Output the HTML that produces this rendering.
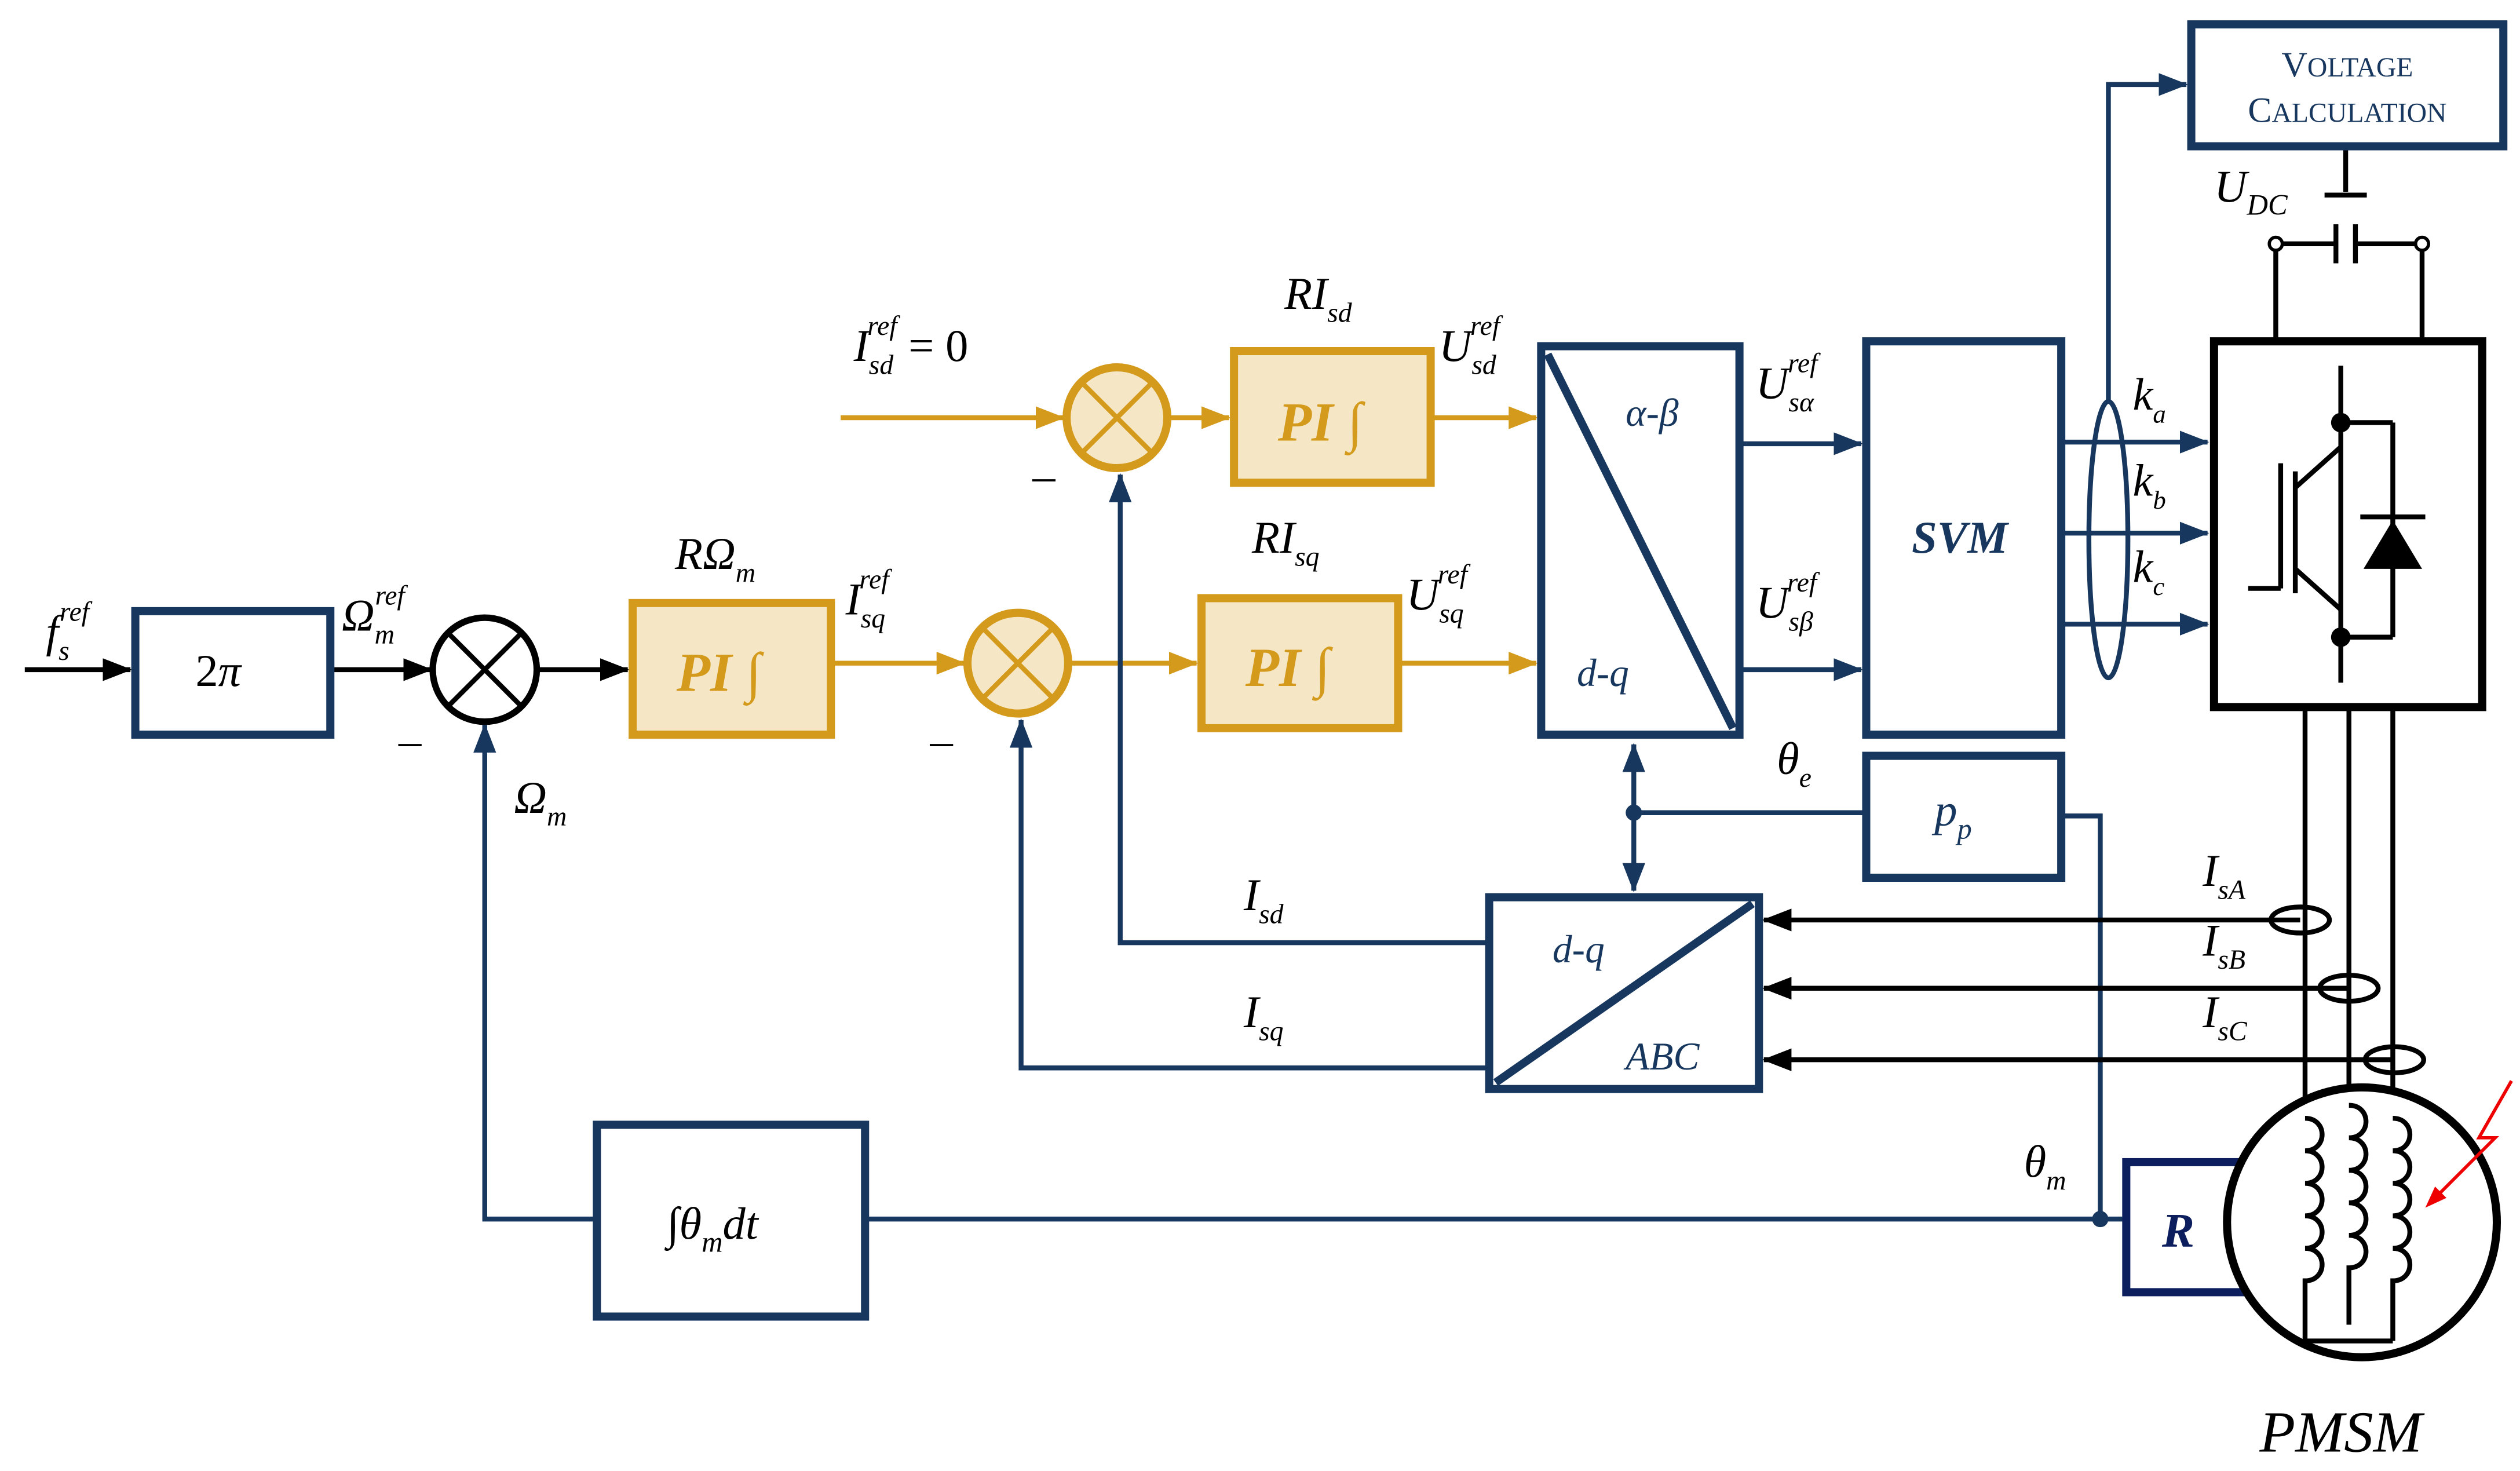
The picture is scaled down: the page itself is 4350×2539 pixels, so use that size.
<!DOCTYPE html>
<html><head><meta charset="utf-8"><style>html,body{margin:0;padding:0;background:#fff}svg{display:block}</style></head><body>
<svg xmlns="http://www.w3.org/2000/svg" width="4350" height="2539" viewBox="0 0 1550 905" font-family="Liberation Serif, serif" font-style="italic">
<defs>
<marker id="ak" markerWidth="10" markerHeight="10" refX="9" refY="5" orient="auto" markerUnits="userSpaceOnUse"><path d="M0,0 L14,5 L0,10 z" fill="#000" transform="scale(1)"/></marker>
<marker id="ab" markerWidth="18" markerHeight="14" refX="17" refY="7" orient="auto" markerUnits="userSpaceOnUse"><path d="M0,0 L18,7 L0,14 z" fill="#17375E"/></marker>
<marker id="abs" markerWidth="18" markerHeight="14" refX="1" refY="7" orient="auto" markerUnits="userSpaceOnUse"><path d="M18,0 L0,7 L18,14 z" fill="#17375E"/></marker>
<marker id="ao" markerWidth="18" markerHeight="14" refX="17" refY="7" orient="auto" markerUnits="userSpaceOnUse"><path d="M0,0 L18,7 L0,14 z" fill="#D49A1C"/></marker>
<marker id="akk" markerWidth="18" markerHeight="14" refX="17" refY="7" orient="auto" markerUnits="userSpaceOnUse"><path d="M0,0 L18,7 L0,14 z" fill="#000"/></marker>
</defs>
<g fill="none" stroke-width="3">
<!-- black input chain -->
<line x1="15" y1="412" x2="80" y2="412" stroke="#000" marker-end="url(#akk)"/>
<line x1="203" y1="412" x2="265" y2="412" stroke="#000" marker-end="url(#akk)"/>
<line x1="330" y1="412" x2="386" y2="412" stroke="#000" marker-end="url(#akk)"/>
<!-- orange -->
<g stroke="#D49A1C">
<line x1="511" y1="408" x2="593" y2="408" marker-end="url(#ao)"/>
<line x1="658" y1="408" x2="736" y2="408" marker-end="url(#ao)"/>
<line x1="860" y1="408" x2="945" y2="408" marker-end="url(#ao)"/>
<line x1="517" y1="257" x2="654" y2="257" marker-end="url(#ao)"/>
<line x1="719" y1="257" x2="756" y2="257" marker-end="url(#ao)"/>
<line x1="880" y1="257" x2="945" y2="257" marker-end="url(#ao)"/>
</g>
<!-- navy lines -->
<g stroke="#17375E">
<line x1="1070" y1="273" x2="1145" y2="273" marker-end="url(#ab)"/>
<line x1="1070" y1="412" x2="1145" y2="412" marker-end="url(#ab)"/>
<line x1="1268" y1="272" x2="1358" y2="272" marker-end="url(#ab)"/>
<line x1="1268" y1="328" x2="1358" y2="328" marker-end="url(#ab)"/>
<line x1="1268" y1="384" x2="1358" y2="384" marker-end="url(#ab)"/>
<ellipse cx="1297" cy="332" rx="12" ry="85"/>
<polyline points="1297,248 1297,52 1345,52" marker-end="url(#ab)"/>
<line x1="1005" y1="458" x2="1005" y2="548" marker-start="url(#abs)" marker-end="url(#ab)"/>
<line x1="1005" y1="500" x2="1148" y2="500"/>
<polyline points="1268,502 1292,502 1292,750"/>
<polyline points="916,580 689,580 689,292" marker-end="url(#ab)"/>
<polyline points="916,657 628,657 628,443" marker-end="url(#ab)"/>
<line x1="532" y1="750" x2="1308" y2="750"/>
<polyline points="367,750 298,750 298,446" marker-end="url(#ab)"/>
</g>
<!-- black currents -->
<g stroke="#000">
<line x1="1415" y1="566" x2="1085" y2="566" marker-end="url(#akk)"/>
<line x1="1445" y1="608" x2="1085" y2="608" marker-end="url(#akk)"/>
<line x1="1473" y1="652" x2="1085" y2="652" marker-end="url(#akk)"/>
<line x1="1418" y1="435" x2="1418" y2="690"/>
<line x1="1445" y1="435" x2="1445" y2="680"/>
<line x1="1472" y1="435" x2="1472" y2="690"/>
<ellipse cx="1415" cy="566" rx="18" ry="8"/>
<ellipse cx="1445" cy="608" rx="18" ry="8"/>
<ellipse cx="1473" cy="652" rx="18" ry="8"/>
<line x1="1443" y1="92" x2="1443" y2="118"/>
<line x1="1430" y1="120" x2="1456" y2="120"/>
<polyline points="1400,210 1400,150 1437,150"/>
<polyline points="1490,210 1490,150 1449,150"/>
<line x1="1437" y1="138" x2="1437" y2="162"/>
<line x1="1449" y1="138" x2="1449" y2="162"/>
</g>
</g>
<circle cx="1400" cy="150" r="4" fill="#fff" stroke="#000" stroke-width="2"/>
<circle cx="1490" cy="150" r="4" fill="#fff" stroke="#000" stroke-width="2"/>
<circle cx="1005" cy="500" r="5" fill="#17375E"/>
<circle cx="1292" cy="750" r="5" fill="#17375E"/>
<!-- blocks navy -->
<g fill="#fff" stroke="#17375E" stroke-width="5">
<rect x="83" y="376" width="120" height="76"/>
<rect x="948" y="213" width="122" height="239"/>
<rect x="1148" y="210" width="120" height="242"/>
<rect x="1348" y="15" width="192" height="75"/>
<rect x="916" y="552" width="166" height="118"/>
<rect x="1148" y="465" width="120" height="75"/>
<rect x="367" y="692" width="165" height="118"/>
<rect x="1308" y="715" width="72" height="80" stroke="#0D1E5E"/>
</g>
<line x1="952" y1="218" x2="1066" y2="448" stroke="#17375E" stroke-width="5"/>
<line x1="920" y1="666" x2="1078" y2="556" stroke="#17375E" stroke-width="5"/>
<!-- orange blocks -->
<g fill="#F5E6C5" stroke="#D49A1C" stroke-width="5">
<rect x="389" y="371" width="122" height="81"/>
<rect x="739" y="368" width="121" height="80"/>
<rect x="759" y="216" width="121" height="81"/>
<circle cx="626" cy="408" r="31"/>
<circle cx="687" cy="257" r="31"/>
</g>
<g stroke="#D49A1C" stroke-width="3">
<line x1="604" y1="386" x2="648" y2="430"/><line x1="648" y1="386" x2="604" y2="430"/>
<line x1="665" y1="235" x2="709" y2="279"/><line x1="709" y1="235" x2="665" y2="279"/>
</g>
<circle cx="298" cy="412" r="32" fill="#fff" stroke="#000" stroke-width="4"/>
<g stroke="#000" stroke-width="3"><line x1="275" y1="389" x2="321" y2="435"/><line x1="321" y1="389" x2="275" y2="435"/></g>
<!-- inverter -->
<rect x="1362" y="210" width="165" height="225" fill="#fff" stroke="#000" stroke-width="5"/>
<g stroke="#000" stroke-width="3" fill="none">
<line x1="1440" y1="225" x2="1440" y2="420"/>
<line x1="1440" y1="260" x2="1472" y2="260"/><line x1="1472" y1="260" x2="1472" y2="392"/><line x1="1440" y1="392" x2="1472" y2="392"/>
<line x1="1412" y1="290" x2="1412" y2="365"/><line x1="1403" y1="285" x2="1403" y2="362"/><line x1="1383" y1="362" x2="1403" y2="362"/>
<line x1="1412" y1="300" x2="1440" y2="275"/><line x1="1412" y1="350" x2="1440" y2="375"/>
<line x1="1452" y1="318" x2="1492" y2="318"/>
</g>
<path d="M1454,350 L1490,350 L1472,320 z" fill="#000"/>
<circle cx="1440" cy="260" r="6" fill="#000"/><circle cx="1440" cy="392" r="6" fill="#000"/>
<!-- motor -->
<circle cx="1453" cy="752" r="83" fill="#fff" stroke="#000" stroke-width="5"/>
<g stroke="#000" stroke-width="3" fill="none">
<path d="M1418,688 c14,0 14,20 0,20 c14,0 14,20 0,20 c14,0 14,20 0,20 c14,0 14,20 0,20 c14,0 14,20 0,20 L1418,825"/>
<path d="M1445,680 c14,0 14,20 0,20 c14,0 14,20 0,20 c14,0 14,20 0,20 c14,0 14,20 0,20 c14,0 14,20 0,20 L1445,815"/>
<path d="M1472,688 c14,0 14,20 0,20 c14,0 14,20 0,20 c14,0 14,20 0,20 c14,0 14,20 0,20 c14,0 14,20 0,20 L1472,825"/>
<line x1="1418" y1="825" x2="1472" y2="825"/>
</g>
<path d="M1545,665 L1525,700 L1535,700 L1495,740" stroke="#E00" stroke-width="2" fill="none"/>
<path d="M1492,743 L1498,730 L1505,737 z" fill="#E00"/>
<!-- text -->
<g fill="#17375E" font-size="34" font-weight="bold">
<text x="786" y="271" fill="#D49A1C">PI ∫</text>
<text x="766" y="422" fill="#D49A1C">PI ∫</text>
<text x="416" y="425" fill="#D49A1C">PI ∫</text>
<text x="1176" y="340" font-size="28">SVM</text>
<text x="1330" y="767" font-size="30" fill="#0D1E5E">R</text>
</g>
<g font-size="28" fill="#17375E">
<text x="1000" y="262" font-size="24">α-β</text>
<text x="970" y="422" font-size="24">d-q</text>
<text x="955" y="592" font-size="24">d-q</text>
<text x="1000" y="658" font-size="24">ABC</text>
<text x="1190" y="508">p<tspan font-size="18" dy="8">p</tspan></text>
</g>
<g font-size="28" fill="#000">
<text x="120" y="422" font-style="normal">2<tspan font-style="italic">π</tspan></text>
<text x="410" y="762">∫θ<tspan font-size="18" dy="8">m</tspan><tspan dy="-8">dt</tspan></text>
<text x="28" y="398">f<tspan font-size="17" dy="8">s</tspan><tspan font-size="17" dy="-24" dx="-6">ref</tspan></text>
<text x="210" y="388">Ω<tspan font-size="17" dy="8">m</tspan><tspan font-size="17" dy="-24" dx="-12">ref</tspan></text>
<text x="415" y="350">RΩ<tspan font-size="17" dy="8">m</tspan></text>
<text x="316" y="500">Ω<tspan font-size="17" dy="8">m</tspan></text>
<text x="520" y="378">I<tspan font-size="17" dy="8">sq</tspan><tspan font-size="17" dy="-24" dx="-16">ref</tspan></text>
<text x="525" y="222">I<tspan font-size="17" dy="8">sd</tspan><tspan font-size="17" dy="-24" dx="-16">ref</tspan><tspan font-style="normal" dy="16"> = 0</tspan></text>
<text x="790" y="190">RI<tspan font-size="17" dy="8">sd</tspan></text>
<text x="770" y="340">RI<tspan font-size="17" dy="8">sq</tspan></text>
<text x="885" y="222">U<tspan font-size="17" dy="8">sd</tspan><tspan font-size="17" dy="-24" dx="-16">ref</tspan></text>
<text x="865" y="375">U<tspan font-size="17" dy="8">sq</tspan><tspan font-size="17" dy="-24" dx="-16">ref</tspan></text>
<text x="1080" y="245">U<tspan font-size="17" dy="8">sα</tspan><tspan font-size="17" dy="-24" dx="-16">ref</tspan></text>
<text x="1080" y="380">U<tspan font-size="17" dy="8">sβ</tspan><tspan font-size="17" dy="-24" dx="-16">ref</tspan></text>
<text x="1312" y="252">k<tspan font-size="16" dy="8">a</tspan></text>
<text x="1312" y="305">k<tspan font-size="16" dy="8">b</tspan></text>
<text x="1312" y="358">k<tspan font-size="16" dy="8">c</tspan></text>
<text x="1362" y="124">U<tspan font-size="18" dy="8">DC</tspan></text>
<text x="1093" y="476">θ<tspan font-size="17" dy="8">e</tspan></text>
<text x="1245" y="724">θ<tspan font-size="17" dy="8">m</tspan></text>
<text x="765" y="560">I<tspan font-size="17" dy="8">sd</tspan></text>
<text x="765" y="632">I<tspan font-size="17" dy="8">sq</tspan></text>
<text x="1355" y="545">I<tspan font-size="17" dy="8">sA</tspan></text>
<text x="1355" y="588">I<tspan font-size="17" dy="8">sB</tspan></text>
<text x="1355" y="632">I<tspan font-size="17" dy="8">sC</tspan></text>
<text x="1390" y="893" font-size="36">PMSM</text>
<text x="245" y="465" font-style="normal">–</text>
<text x="572" y="465" font-style="normal">–</text>
<text x="635" y="302" font-style="normal">–</text>
</g>
<g fill="#17375E" font-style="normal" font-size="22" text-anchor="middle">
<text x="1444" y="47">V<tspan font-size="17">OLTAGE</tspan></text>
<text x="1444" y="75">C<tspan font-size="17">ALCULATION</tspan></text>
</g>
</svg>
</body></html>
